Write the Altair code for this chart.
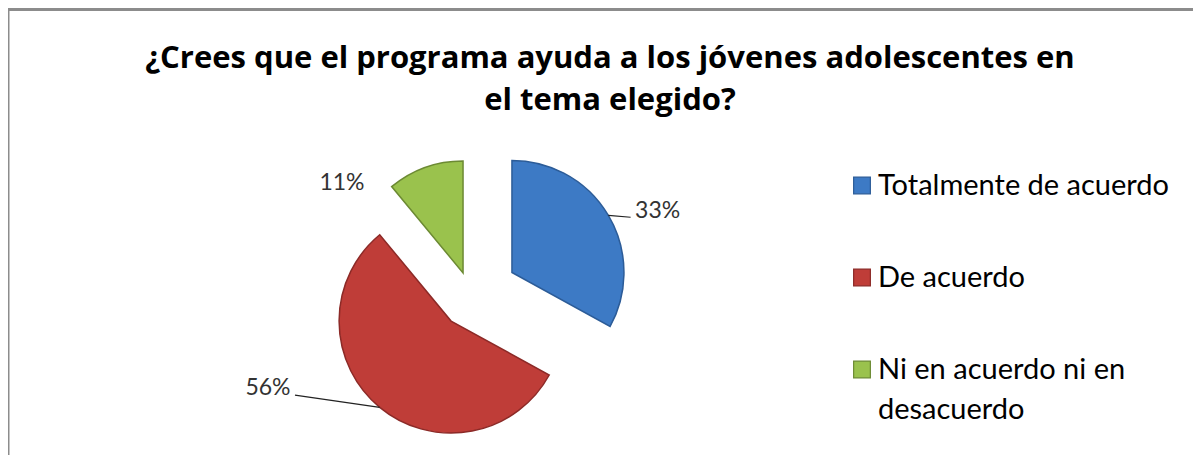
import altair as alt
import pandas as pd

# ---------------- data ----------------
TITLE_LINES = ["¿Crees que el programa ayuda a los jóvenes adolescentes en", "el tema elegido?"]
CATEGORIES = ["Totalmente de acuerdo", "De acuerdo", "Ni en acuerdo ni en desacuerdo"]
VALUES = [33, 56, 11]
LEGEND_LABELS = ["Totalmente de acuerdo", "De acuerdo", "Ni en acuerdo ni en\ndesacuerdo"]

# ---------------- style ----------------
COLORS = ["#3D7AC5", "#BF3D38", "#9AC24D"]
EDGE_COLORS = ["#2C5C98", "#8C2A27", "#6C8A33"]
EXPLODE = {"Totalmente de acuerdo": 47, "De acuerdo": 32, "Ni en acuerdo ni en desacuerdo": 25}
# label placement: (angle shift from slice middle in degrees, distance from slice apex)
LABEL_POS = {"Totalmente de acuerdo": (7.8, 158), "De acuerdo": (30.3, 195),
             "Ni en acuerdo ni en desacuerdo": (-33.5, 151)}
# leader line end relative to label centre, None = no leader
LEADER = {"Totalmente de acuerdo": (-27, 6), "De acuerdo": (27, 7),
          "Ni en acuerdo ni en desacuerdo": None}
W, H = 1185, 447
CX, CY, R = 463.5, 288.4, 112
FONT = "Lato"
TITLE_FONT = "Open Sans"

df = pd.DataFrame({
    "cat": CATEGORIES,
    "val": VALUES,
    "label": LEGEND_LABELS,
    "order": list(range(len(CATEGORIES))),
    "explode": [EXPLODE[c] for c in CATEGORIES],
    "lab_dt": [LABEL_POS[c][0] for c in CATEGORIES],
    "lab_r": [LABEL_POS[c][1] for c in CATEGORIES],
    "lead": [LEADER[c] is not None for c in CATEGORIES],
    "lead_dx": [(LEADER[c] or (0, 0))[0] for c in CATEGORIES],
    "lead_dy": [(LEADER[c] or (0, 0))[1] for c in CATEGORIES],
})

color = alt.Color("cat:N", scale=alt.Scale(domain=CATEGORIES, range=COLORS), legend=None)
stroke = alt.Stroke("cat:N", scale=alt.Scale(domain=CATEGORIES, range=EDGE_COLORS), legend=None)

base = alt.Chart(df).transform_joinaggregate(
    total="sum(val)"
).transform_window(
    cum="sum(val)", sort=[alt.SortField("order")], frame=[None, 0]
).transform_calculate(
    t0="2*PI*(datum.cum - datum.val)/datum.total",
    t1="2*PI*datum.cum/datum.total",
    pct="datum.val/datum.total",
).transform_calculate(
    mid="(datum.t0 + datum.t1)/2"
).transform_calculate(
    cx=f"{CX} + datum.explode*sin(datum.mid)",
    cy=f"{CY} - datum.explode*cos(datum.mid)",
    la="datum.mid + datum.lab_dt*PI/180",
).transform_calculate(
    lx="datum.cx + datum.lab_r*sin(datum.la)",
    ly="datum.cy - datum.lab_r*cos(datum.la)",
    ex=f"datum.cx + {R}*sin(datum.mid)",
    ey=f"datum.cy - {R}*cos(datum.mid)",
)

pie = base.mark_arc(radius=R, strokeWidth=1.5).encode(
    theta=alt.Theta("t0:Q", scale=None),
    theta2="t1:Q",
    x=alt.X("cx:Q", scale=None, axis=None),
    y=alt.Y("cy:Q", scale=None, axis=None),
    color=color,
    stroke=stroke,
)

leaders = base.transform_filter("datum.lead").transform_calculate(
    ex2="datum.lx + datum.lead_dx", ey2="datum.ly + datum.lead_dy"
).mark_rule(color="#222222", strokeWidth=1.2).encode(
    x=alt.X("ex:Q", scale=None, axis=None),
    y=alt.Y("ey:Q", scale=None, axis=None),
    x2="ex2:Q",
    y2="ey2:Q",
)

labels = base.mark_text(font=FONT, fontSize=23, color="#333333", align="center", baseline="middle").encode(
    x=alt.X("lx:Q", scale=None, axis=None),
    y=alt.Y("ly:Q", scale=None, axis=None),
    text=alt.Text("pct:Q", format=".0%"),
)

title_df = pd.DataFrame({"t": ["\n".join(TITLE_LINES)]})
title = alt.Chart(title_df).mark_text(
    font=TITLE_FONT, fontSize=31, fontWeight="bold", color="#000000", align="center",
    baseline="alphabetic", lineBreak="\n", lineHeight=42
).encode(x=alt.value(602), y=alt.value(60), text="t:N")

leg_y = alt.Y("cat:N", sort=CATEGORIES,
              scale=alt.Scale(type="point", domain=CATEGORIES, range=[177.5, 361.5], padding=0),
              axis=None)
leg_sq = alt.Chart(df).mark_square(size=280, opacity=1, strokeWidth=1.2, filled=True).encode(
    x=alt.value(854), y=leg_y, color=color, stroke=stroke
)
leg_tx = alt.Chart(df).mark_text(
    font=FONT, fontSize=29, color="#000000", align="left", baseline="alphabetic",
    dy=9, lineBreak="\n", lineHeight=40
).encode(x=alt.value(870), y=leg_y, text="label:N")

frame_df = pd.DataFrame({"k": [0]})
frame_top = alt.Chart(frame_df).mark_rule(color="#8C8C8C", strokeWidth=3).encode(
    x=alt.value(0), x2=alt.value(W), y=alt.value(1.5)
)
frame_left = alt.Chart(frame_df).mark_rule(color="#8C8C8C", strokeWidth=3).encode(
    x=alt.value(0), y=alt.value(0), y2=alt.value(H)
)

chart = alt.layer(
    frame_top, frame_left, pie, leaders, labels, title, leg_sq, leg_tx
).resolve_scale(
    x="independent", y="independent"
).properties(
    width=W, height=H, autosize=alt.AutoSizeParams(type="none"), padding=0,
    background="#FFFFFF"
).configure_view(strokeWidth=0)

chart.save("out.html", embed_options={"renderer": "svg", "actions": False})
